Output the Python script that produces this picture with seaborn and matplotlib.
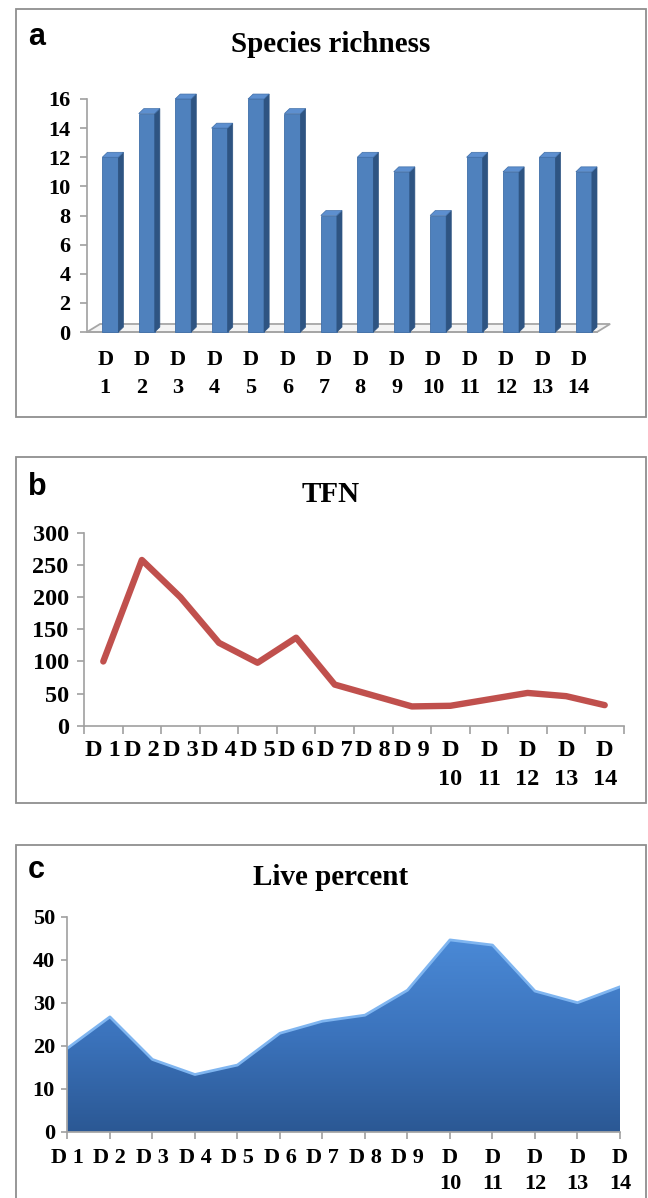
import numpy as np
import pandas as pd
import matplotlib
matplotlib.use("Agg")
import matplotlib.pyplot as plt
import seaborn as sns
from matplotlib.patches import Polygon, Rectangle
from matplotlib.colors import LinearSegmentedColormap

# ---------------- data ----------------
categories = ["D1", "D2", "D3", "D4", "D5", "D6", "D7", "D8", "D9", "D10", "D11", "D12", "D13", "D14"]
species_richness = [12, 15, 16, 14, 16, 15, 8, 12, 11, 8, 12, 11, 12, 11]
tfn = [100, 258, 200, 129, 98, 137, 64, 47, 30, 31, 41, 51, 46, 32]
live_percent = [19.4, 26.7, 16.8, 13.3, 15.5, 22.9, 25.7, 27.1, 32.9, 44.6, 43.4, 32.7, 30.0, 33.7]

labels_a = ["D\n1", "D\n2", "D\n3", "D\n4", "D\n5", "D\n6", "D\n7", "D\n8", "D\n9",
            "D\n10", "D\n11", "D\n12", "D\n13", "D\n14"]
labels_bc = ["D 1", "D 2", "D 3", "D 4", "D 5", "D 6", "D 7", "D 8", "D 9",
             "D\n10", "D\n11", "D\n12", "D\n13", "D\n14"]
yticks_a = [0, 2, 4, 6, 8, 10, 12, 14, 16]
yticks_b = [0, 50, 100, 150, 200, 250, 300]
yticks_c = [0, 10, 20, 30, 40, 50]

titles = ["Species richness", "TFN", "Live percent"]
panel_letters = ["a", "b", "c"]

# ---------------- style ----------------
sns.set_theme(style="white")
plt.rcParams["font.family"] = ["Liberation Serif", "DejaVu Serif"]
plt.rcParams["font.weight"] = "bold"
plt.rcParams["text.color"] = "black"
plt.rcParams["xtick.labelcolor"] = "black"
plt.rcParams["ytick.labelcolor"] = "black"

W, H = 648, 1198
fig = plt.figure(figsize=(W / 100, H / 100), dpi=100)
fig.patch.set_facecolor("white")

def fx(px):
    return px / W

def fy(py):
    return 1 - py / H

# panel frames
frame_col = "#8f8f8f"
for top, bot in [(9, 417), (457, 803), (845, 1210)]:
    fig.patches.append(Rectangle((fx(15.5), fy(bot)), fx(646) - fx(15.5), fy(top) - fy(bot),
                                 transform=fig.transFigure, fill=False,
                                 edgecolor=frame_col, linewidth=1.3, zorder=0))

spine_col = "#a0a0a0"

# ---------------- panel a : 3D-style bars ----------------
ax_a = fig.add_axes([fx(87), fy(332), fx(597) - fx(87), fy(99) - fy(332)])
df_a = pd.DataFrame({"cat": categories, "val": species_richness})
sns.barplot(data=df_a, x="cat", y="val", color="#4F81BD", saturation=1, width=0.44,
            ax=ax_a, zorder=3)
ax_a.set_xlim(-0.5, 13.5)
ax_a.set_ylim(0, 16)

# floor (depth derived in axis units)
dxf, dyf = 0.36, 0.55
floor = Polygon([(-0.5, 0), (13.5, 0), (13.5 + dxf, dyf), (-0.5 + dxf, dyf)], closed=True,
                facecolor="#f4f4f4", edgecolor="#a6a6a6", linewidth=1.3, clip_on=False, zorder=2)
ax_a.add_patch(floor)

dxs, dys = 0.14, 0.34
for p in list(ax_a.patches):
    if p is floor:
        continue
    p.set_x(p.get_x() + 0.14)
    x0, w, h = p.get_x(), p.get_width(), p.get_height()
    p.set_edgecolor("#3f6ea8")
    p.set_linewidth(0.6)
    p.set_clip_on(False)
    side = Polygon([(x0 + w, 0), (x0 + w + dxs, dys), (x0 + w + dxs, h + dys), (x0 + w, h)],
                   closed=True, facecolor="#2E5482", edgecolor="#2E5482", linewidth=0.5,
                   clip_on=False, zorder=3)
    topf = Polygon([(x0, h), (x0 + dxs, h + dys), (x0 + w + dxs, h + dys), (x0 + w, h)],
                   closed=True, facecolor="#5D8FCF", edgecolor="#3f6ea8", linewidth=0.5,
                   clip_on=False, zorder=3)
    ax_a.add_patch(side)
    ax_a.add_patch(topf)

ax_a.set_xticks(range(len(categories)))
ax_a.set_xticklabels(labels_a, fontsize=16, fontweight="bold", linespacing=1.5, color="black")
ax_a.set_xticks(np.arange(-0.5, len(categories), 1.0), minor=True)
ax_a.tick_params(axis="x", which="major", length=0, pad=13)
ax_a.tick_params(axis="x", which="minor", length=6, width=1.2, color=spine_col, direction="out")
ax_a.set_yticks(yticks_a)
ax_a.set_yticklabels([str(v) for v in yticks_a], fontsize=16, fontweight="bold", color="black")
ax_a.tick_params(axis="y", length=5, width=1.2, color=spine_col, direction="out", pad=7, left=True)
for s in ["top", "right"]:
    ax_a.spines[s].set_visible(False)
ax_a.spines["left"].set_color(spine_col)
ax_a.spines["bottom"].set_color("#a6a6a6")
ax_a.spines["left"].set_linewidth(1.2)
ax_a.spines["bottom"].set_linewidth(1.3)
ax_a.set_xlabel("")
ax_a.set_ylabel("")
ax_a.set_facecolor("none")

# ---------------- panel b : line ----------------
ax_b = fig.add_axes([fx(84), fy(725.7), fx(624) - fx(84), fy(533) - fy(725.7)])
df_b = pd.DataFrame({"pos": np.arange(len(categories)), "val": tfn})
sns.lineplot(data=df_b, x="pos", y="val", color="#C0504D", linewidth=4.6, ax=ax_b,
             solid_capstyle="round", solid_joinstyle="round")
ax_b.set_xlim(-0.5, 13.5)
ax_b.set_ylim(0, 300)
ax_b.set_xticks(range(len(categories)))
ax_b.set_xticklabels(labels_bc, fontsize=17.5, fontweight="bold", linespacing=1.5, color="black")
ax_b.set_xticks(np.arange(-0.5, len(categories), 1.0), minor=True)
ax_b.tick_params(axis="x", which="major", length=0, pad=10)
ax_b.tick_params(axis="x", which="minor", length=6, width=1.2, color=spine_col, direction="out", bottom=True)
ax_b.set_yticks(yticks_b)
ax_b.set_yticklabels([str(v) for v in yticks_b], fontsize=17.5, fontweight="bold", color="black")
ax_b.tick_params(axis="y", length=5, width=1.2, color=spine_col, direction="out", pad=6, left=True)
for s in ["top", "right"]:
    ax_b.spines[s].set_visible(False)
for s in ["left", "bottom"]:
    ax_b.spines[s].set_color(spine_col)
    ax_b.spines[s].set_linewidth(1.2)
ax_b.set_xlabel("")
ax_b.set_ylabel("")

# ---------------- panel c : area ----------------
ax_c = fig.add_axes([fx(67.4), fy(1131.7), fx(620) - fx(67.4), fy(916.7) - fy(1131.7)])
xc = np.arange(len(categories))
df_c = pd.DataFrame({"pos": xc, "val": live_percent})
fill = ax_c.fill_between(df_c["pos"], df_c["val"], 0, color="none", linewidth=0)
grad = np.linspace(0, 1, 256).reshape(-1, 1)
cmap = LinearSegmentedColormap.from_list("g", ["#2B5894", "#3B73BC", "#4A89D6"])
im = ax_c.imshow(grad, extent=[0, len(categories) - 1, 0, max(live_percent)], aspect="auto",
                 cmap=cmap, origin="lower", zorder=1)
im.set_clip_path(fill.get_paths()[0], transform=ax_c.transData)
sns.lineplot(data=df_c, x="pos", y="val", color="#7FB5F0", linewidth=2.0, ax=ax_c, zorder=2)
ax_c.set_xlim(0, len(categories) - 1)
ax_c.set_ylim(0, 50)
ax_c.set_xticks(xc)
ax_c.set_xticklabels(labels_bc, fontsize=16, fontweight="bold", linespacing=1.4, color="black")
ax_c.tick_params(axis="x", length=5, width=1.2, color=spine_col, direction="out", pad=7, bottom=True)
ax_c.set_yticks(yticks_c)
ax_c.set_yticklabels([str(v) for v in yticks_c], fontsize=16, fontweight="bold", color="black")
ax_c.tick_params(axis="y", length=4, width=1.2, color=spine_col, direction="out", pad=5, left=True)
for s in ["top", "right"]:
    ax_c.spines[s].set_visible(False)
for s in ["left", "bottom"]:
    ax_c.spines[s].set_color(spine_col)
    ax_c.spines[s].set_linewidth(1.2)
ax_c.set_xlabel("")
ax_c.set_ylabel("")

# ---------------- titles & panel letters ----------------
for t, yb in zip(titles, [52, 502, 885]):
    fig.text(fx(331), fy(yb), t, ha="center", va="baseline", fontsize=21, color="black",
             fontweight="bold", family=["Liberation Serif", "DejaVu Serif"])
for l, yb in zip(panel_letters, [45, 495, 878]):
    fig.text(fx(28), fy(yb), l, ha="left", va="baseline", fontsize=22, color="black",
             fontweight="bold", family=["Liberation Sans", "DejaVu Sans"])

fig.savefig("out.png", dpi=100, facecolor="white")
